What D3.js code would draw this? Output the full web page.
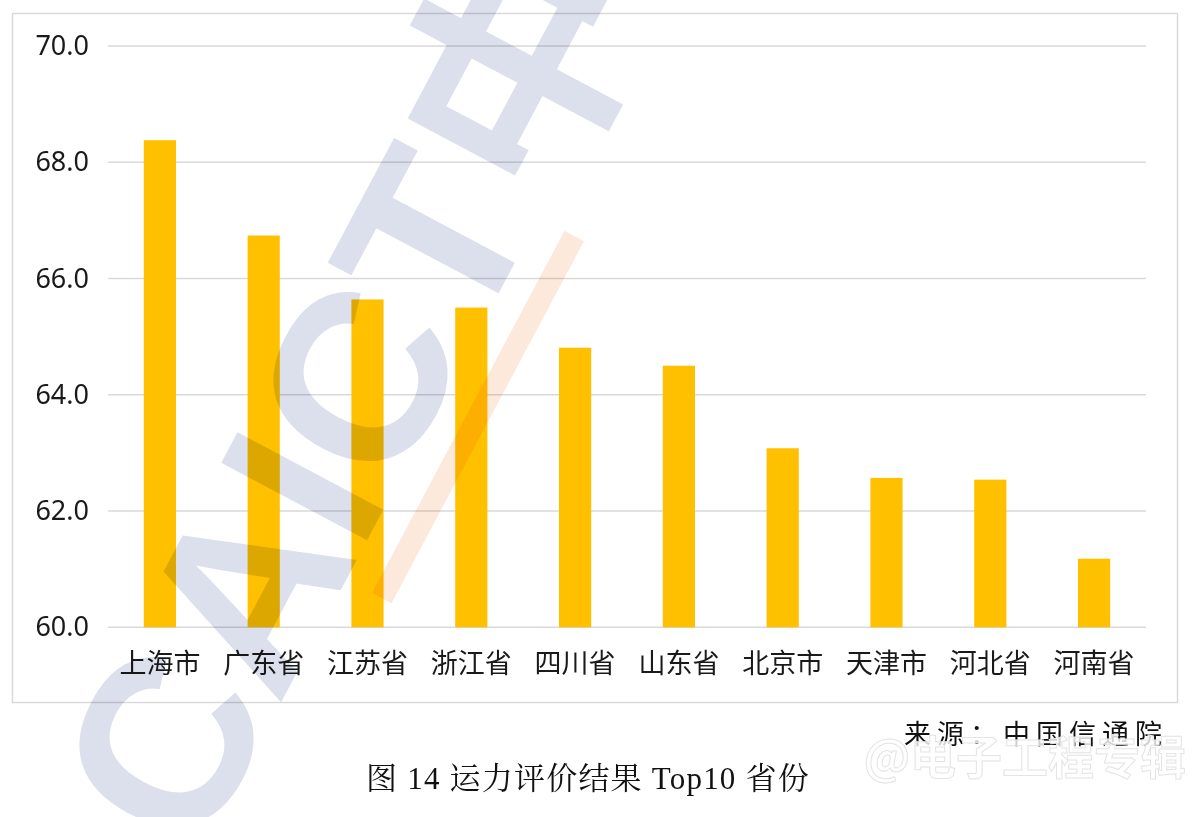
<!DOCTYPE html>
<html>
<head>
<meta charset="utf-8">
<script src="https://cdn.jsdelivr.net/npm/d3@7"></script>
<style>
  body { margin: 0; background: #fff; }
  svg { display: block; }
</style>
</head>
<body>
<div id="chart"></div>
<script>
// data
var provinces = ["上海市", "广东省", "江苏省", "浙江省", "四川省", "山东省", "北京市", "天津市", "河北省", "河南省"];
var scores = [68.38, 66.74, 65.64, 65.50, 64.81, 64.50, 63.08, 62.57, 62.54, 61.18];
var yTicks = [60, 62, 64, 66, 68, 70];

var svgWidth = 1200;
var svgHeight = 817;

var margin = { top: 46, right: 54, bottom: 190, left: 108 };
var width = 1146 - margin.left;
var height = 627.3 - margin.top;

var svg = d3.select("#chart")
  .append("svg")
  .attr("width", svgWidth)
  .attr("height", svgHeight);

// outer frame of the chart area
svg.append("rect")
  .attr("x", 12.5)
  .attr("y", 13.5)
  .attr("width", 1165)
  .attr("height", 689)
  .attr("fill", "#fff")
  .attr("stroke", "#d9d9d9")
  .attr("stroke-width", 1.5);

var chartGroup = svg.append("g")
  .attr("transform", `translate(${margin.left}, ${margin.top})`);

var xScale = d3.scaleBand()
  .domain(provinces)
  .range([0, width])
  .paddingInner(0.69)
  .paddingOuter(0.345);

var yScale = d3.scaleLinear()
  .domain([60, 70])
  .range([height, 0]);

// gridlines
chartGroup.append("g")
  .selectAll("line")
  .data(yTicks)
  .enter()
  .append("line")
  .attr("x1", 0)
  .attr("x2", width)
  .attr("y1", d => yScale(d))
  .attr("y2", d => yScale(d))
  .attr("stroke", "#d9d9d9")
  .attr("stroke-width", 1.5);

// y axis labels
var leftAxis = d3.axisLeft(yScale)
  .tickValues(yTicks)
  .tickFormat(d3.format(".1f"))
  .tickSize(0)
  .tickPadding(19);

chartGroup.append("g")
  .call(leftAxis)
  .call(g => g.select(".domain").remove())
  .selectAll("text")
  .attr("font-family", "'Noto Sans', 'Open Sans', sans-serif")
  .attr("font-size", 27)
  .attr("fill", "#1a1a1a");

// bars
chartGroup.selectAll(".bar")
  .data(scores)
  .enter()
  .append("rect")
  .attr("class", "bar")
  .attr("x", (d, i) => xScale(provinces[i]))
  .attr("y", d => yScale(d))
  .attr("width", xScale.bandwidth())
  .attr("height", d => height - yScale(d))
  .attr("fill", "#ffc000");

// x axis labels
var bottomAxis = d3.axisBottom(xScale)
  .tickSize(0)
  .tickPadding(27);

chartGroup.append("g")
  .attr("transform", `translate(0, ${height})`)
  .call(bottomAxis)
  .call(g => g.select(".domain").remove())
  .selectAll("text")
  .attr("font-family", "'Noto Sans CJK SC', sans-serif")
  .attr("font-size", 27)
  .attr("fill", "#1a1a1a");

// CAICT watermark, laid diagonally over the chart
svg.append("g")
  .attr("transform", "translate(478, 417) rotate(-62)")
  .style("mix-blend-mode", "multiply")
  .append("rect")
  .attr("x", -205)
  .attr("y", -11)
  .attr("width", 410)
  .attr("height", 22)
  .attr("fill", "#fde9db");

svg.append("g")
  .attr("transform", "translate(352, 392) rotate(-62)")
  .style("mix-blend-mode", "multiply")
  .append("text")
  .attr("text-anchor", "middle")
  .attr("dominant-baseline", "central")
  .attr("font-family", "'Liberation Sans', 'Noto Sans CJK SC', sans-serif")
  .attr("font-weight", "bold")
  .attr("font-size", 240)
  .attr("fill", "#dcdfec")
  .text("CAICT中");

// source note
svg.append("text")
  .attr("x", 1168)
  .attr("y", 744)
  .attr("text-anchor", "end")
  .attr("font-family", "'Noto Sans CJK SC', sans-serif")
  .attr("font-size", 27)
  .attr("letter-spacing", 6)
  .attr("fill", "#111")
  .text("来源：中国信通院");

// platform watermark
svg.append("text")
  .attr("x", 1186)
  .attr("y", 774)
  .attr("text-anchor", "end")
  .attr("font-family", "'Noto Sans CJK SC', sans-serif")
  .attr("font-weight", "bold")
  .attr("font-size", 46)
  .attr("fill", "#ffffff")
  .attr("fill-opacity", 0.8)
  .attr("stroke", "#e4e4e4")
  .attr("stroke-width", 1)
  .text("@电子工程专辑");

// caption
svg.append("text")
  .attr("x", 588)
  .attr("y", 789)
  .attr("text-anchor", "middle")
  .attr("font-family", "'Liberation Serif', 'Noto Serif CJK SC', 'Noto Sans CJK SC', serif")
  .attr("font-size", 31)
  .attr("letter-spacing", 1.2)
  .attr("fill", "#111")
  .text("图  14 运力评价结果 Top10 省份");
</script>
</body>
</html>
